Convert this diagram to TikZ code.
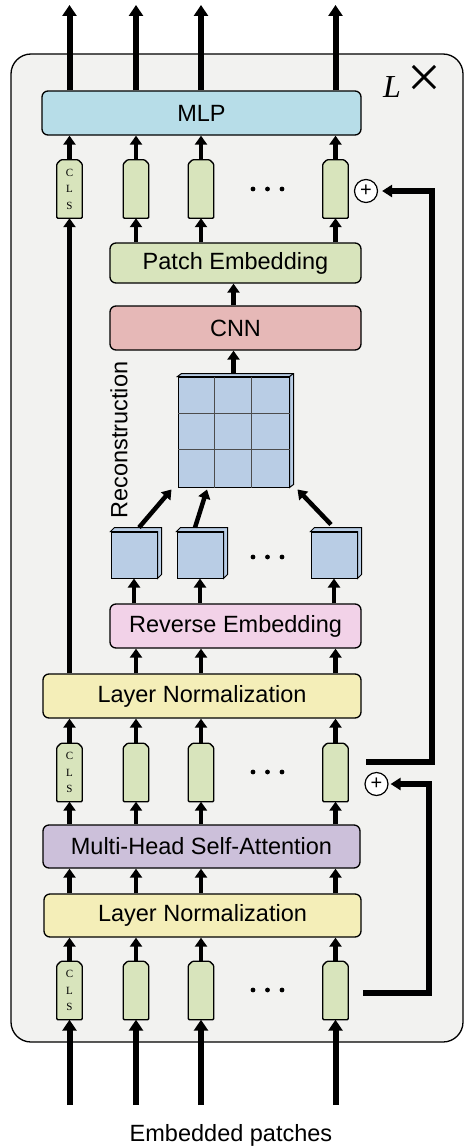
\documentclass[tikz,border=0pt]{standalone}
\usepackage{fontspec}
\setmainfont{Liberation Sans}
\newfontfamily\clsfont{Liberation Serif}
\usetikzlibrary{arrows.meta}

\definecolor{bggray}{HTML}{F2F2F0}
\definecolor{mlpblue}{HTML}{B7DDE8}
\definecolor{tokgreen}{HTML}{D8E4BC}
\definecolor{cnnred}{HTML}{E6B8B7}
\definecolor{revpink}{HTML}{F2D2E8}
\definecolor{lnyellow}{HTML}{F4EEB8}
\definecolor{attnpurple}{HTML}{CCC0DA}
\definecolor{cubeblue}{HTML}{B9CDE5}

\begin{document}
\begin{tikzpicture}[x=1pt,y=-1pt,
    block/.style={draw, line width=1.3pt, rounded corners=6pt, inner sep=0pt,
      font=\fontsize{23.5}{28}\selectfont},
    token/.style={minimum width=25pt, minimum height=58pt, inner sep=0pt,
      append after command={\pgfextra{\draw[line width=1.3pt, fill=tokgreen, rounded corners=1pt]
        (\tikzlastnode.south west) -- ([yshift=-4pt]\tikzlastnode.north west)
        -- ([xshift=4pt]\tikzlastnode.north west) -- ([xshift=-4pt]\tikzlastnode.north east)
        -- ([yshift=-4pt]\tikzlastnode.north east) -- (\tikzlastnode.south east) -- cycle;}}},
    cls/.style={token, align=center, font=\clsfont\fontsize{11}{16.5}\selectfont},
    cube/.style={draw, line width=1pt, fill=cubeblue, inner sep=0pt},
    plusnode/.style={circle, draw, line width=1.2pt, fill=white, minimum size=23pt,
      inner sep=0pt, font=\fontsize{20}{20}\selectfont},
    arr/.style={line width=4.5pt, -{Triangle[width=12pt,length=9pt]}},
    bigarr/.style={line width=6pt, -{Triangle[width=14pt,length=11pt]}},
    looparr/.style={line width=6pt, -{Triangle[width=12pt,length=10pt]}}]
  \useasboundingbox (0,0) rectangle (464,1148);
  % layer frame
  \draw[line width=1.3pt, fill=bggray, rounded corners=20pt] (11,54) rectangle (463,1042);
  \node[anchor=base west, inner sep=0pt, font=\clsfont\fontsize{32}{36}\selectfont] (lx) at (383,97)
    {\textit{L}\hspace{6pt}{\fontsize{60}{60}\selectfont ×}};

  % blocks
  \node[block, fill=mlpblue, minimum width=319pt, minimum height=44pt] (mlp) at (201.5,113) {MLP};
  \node[block, fill=tokgreen, minimum width=251pt, minimum height=40pt] (pe) at (235.5,263) {Patch Embedding};
  \node[block, fill=cnnred, minimum width=251pt, minimum height=44pt] (cnn) at (235.5,328) {CNN};
  \node[block, fill=revpink, minimum width=251pt, minimum height=44pt] (re) at (235.5,626) {Reverse Embedding};
  \node[block, fill=lnyellow, minimum width=318pt, minimum height=44pt] (ln2) at (202,696) {Layer Normalization};
  \node[block, fill=attnpurple, minimum width=317pt, minimum height=43pt] (mhsa) at (201.5,846.5) {Multi-Head Self-Attention};
  \node[block, fill=lnyellow, minimum width=317pt, minimum height=43pt] (ln1) at (202.5,915.5) {Layer Normalization};

  % tokens
  \node[cls] (a1) at (69.5,189) {C\\L\\S};
  \node[token] (a2) at (136,189) {};
  \node[token] (a3) at (201,189) {};
  \node[token] (a4) at (335.5,189) {};
  \node[cls] (b1) at (69.5,772.5) {C\\L\\S};
  \node[token] (b2) at (136,772.5) {};
  \node[token] (b3) at (201,772.5) {};
  \node[token] (b4) at (335.5,772.5) {};
  \node[cls] (c1) at (69.5,990.5) {C\\L\\S};
  \node[token] (c2) at (136,990.5) {};
  \node[token] (c3) at (201,990.5) {};
  \node[token] (c4) at (335.5,990.5) {};
  \fill (253,189) circle (2.4pt) (267.5,189) circle (2.4pt) (282,189) circle (2.4pt);
  \fill (253,557) circle (2.4pt) (267.5,557) circle (2.4pt) (282,557) circle (2.4pt);
  \fill (253,772) circle (2.4pt) (267.5,772) circle (2.4pt) (282,772) circle (2.4pt);
  \fill (253,990) circle (2.4pt) (267.5,990) circle (2.4pt) (282,990) circle (2.4pt);

  % patches and reconstruction
  \node[cube, minimum width=111pt, minimum height=110pt] (grid) at (233.5,432) {};
  \draw[cube] (grid.north west) -- ++(4,-3) -- ([shift={(4,-3)}]grid.north east)
    -- ([shift={(4,-3)}]grid.south east) -- (grid.south east) -- (grid.north east) -- cycle;
  \draw[line width=1pt] (grid.north east) -- ++(4,-3);
  \draw[line width=1pt, black!70] ([xshift=37pt]grid.north west) -- ([xshift=37pt]grid.south west);
  \draw[line width=1pt, black!70] ([xshift=74pt]grid.north west) -- ([xshift=74pt]grid.south west);
  \draw[line width=1pt, black!70] ([yshift=-36.7pt]grid.north west) -- ([yshift=-36.7pt]grid.north east);
  \draw[line width=1pt, black!70] ([yshift=-73.3pt]grid.north west) -- ([yshift=-73.3pt]grid.north east);
  \node[cube, minimum size=46pt] (s1) at (134,555) {};
  \node[cube, minimum size=46pt] (s2) at (200,555) {};
  \node[cube, minimum size=46pt] (s3) at (334,555) {};
  \draw[cube] (s1.north west) -- ++(4,-4) -- ([shift={(4,-4)}]s1.north east)
    -- ([shift={(4,-4)}]s1.south east) -- (s1.south east) -- (s1.north east) -- cycle;
  \draw[cube] (s2.north west) -- ++(4,-4) -- ([shift={(4,-4)}]s2.north east)
    -- ([shift={(4,-4)}]s2.south east) -- (s2.south east) -- (s2.north east) -- cycle;
  \draw[cube] (s3.north west) -- ++(4,-4) -- ([shift={(4,-4)}]s3.north east)
    -- ([shift={(4,-4)}]s3.south east) -- (s3.south east) -- (s3.north east) -- cycle;
  \node[rotate=90, font=\fontsize{23.5}{28}\selectfont] (recon) at (119,440) {Reconstruction};

  % residual adds
  \node[plusnode] (plusA) at (366,191) {+};
  \node[plusnode] (plusB) at (376.5,784) {+};

  % free ends
  \coordinate (out1) at (69.5,5);
  \coordinate (out2) at (136,5);
  \coordinate (out3) at (201,5);
  \coordinate (out4) at (335.5,5);
  \coordinate (in1) at (69.5,1105);
  \coordinate (in2) at (136,1105);
  \coordinate (in3) at (201,1105);
  \coordinate (in4) at (335.5,1105);
  \coordinate (loopA) at (366,762);
  \coordinate (turnA) at (432,762);
  \coordinate (loopB) at (363,993);
  \coordinate (turnB) at (429,993);

  % arrows
  \draw[bigarr] (mlp.north -| a1) -- (out1);
  \draw[bigarr] (mlp.north -| a2) -- (out2);
  \draw[bigarr] (mlp.north -| a3) -- (out3);
  \draw[bigarr] (mlp.north -| a4) -- (out4);
  \draw[arr] (a1.north) -- (mlp.south -| a1);
  \draw[arr] (a2.north) -- (mlp.south -| a2);
  \draw[arr] (a3.north) -- (mlp.south -| a3);
  \draw[arr] (a4.north) -- (mlp.south -| a4);
  \draw[arr] (pe.north -| a2) -- (a2.south);
  \draw[arr] (pe.north -| a3) -- (a3.south);
  \draw[arr] (pe.north -| a4) -- (a4.south);
  \draw[arr] (ln2.north -| a1) -- (a1.south);
  \draw[arr] (cnn.north -| grid) -- (pe.south -| grid);
  \draw[arr] ([yshift=3pt]grid.north) -- (cnn.south -| grid);
  \draw[arr] ([shift={(5,-4)}]s1.north) -- ([shift={(-6,2)}]grid.south west);
  \draw[arr] ([shift={(-5,-4)}]s2.north) -- ([shift={(-26.5,2)}]grid.south);
  \draw[arr] ([shift={(-3,-7)}]s3.north) -- ([shift={(8,2)}]grid.south east);
  \draw[arr] (re.north -| s1) -- (s1.south);
  \draw[arr] (re.north -| s2) -- (s2.south);
  \draw[arr] (re.north -| s3) -- (s3.south);
  \draw[arr] (ln2.north -| a2) -- (re.south -| a2);
  \draw[arr] (ln2.north -| a3) -- (re.south -| a3);
  \draw[arr] (ln2.north -| a4) -- (re.south -| a4);
  \draw[arr] (b1.north) -- (ln2.south -| b1);
  \draw[arr] (b2.north) -- (ln2.south -| b2);
  \draw[arr] (b3.north) -- (ln2.south -| b3);
  \draw[arr] (b4.north) -- (ln2.south -| b4);
  \draw[arr] (mhsa.north -| b1) -- (b1.south);
  \draw[arr] (mhsa.north -| b2) -- (b2.south);
  \draw[arr] (mhsa.north -| b3) -- (b3.south);
  \draw[arr] (mhsa.north -| b4) -- (b4.south);
  \draw[arr] (ln1.north -| c1) -- (mhsa.south -| c1);
  \draw[arr] (ln1.north -| c2) -- (mhsa.south -| c2);
  \draw[arr] (ln1.north -| c3) -- (mhsa.south -| c3);
  \draw[arr] (ln1.north -| c4) -- (mhsa.south -| c4);
  \draw[arr] (c1.north) -- (ln1.south -| c1);
  \draw[arr] (c2.north) -- (ln1.south -| c2);
  \draw[arr] (c3.north) -- (ln1.south -| c3);
  \draw[arr] (c4.north) -- (ln1.south -| c4);
  \draw[bigarr] (in1) -- (c1.south);
  \draw[bigarr] (in2) -- (c2.south);
  \draw[bigarr] (in3) -- (c3.south);
  \draw[bigarr] (in4) -- (c4.south);
  \draw[looparr, shorten >=4pt] (loopA) -- (turnA) |- (plusA);
  \draw[looparr, shorten >=2pt] (loopB) -- (turnB) |- (plusB);

  \node[font=\fontsize{23.5}{28}\selectfont] (ep) at (231,1135) {Embedded patches};
\end{tikzpicture}
\end{document}
